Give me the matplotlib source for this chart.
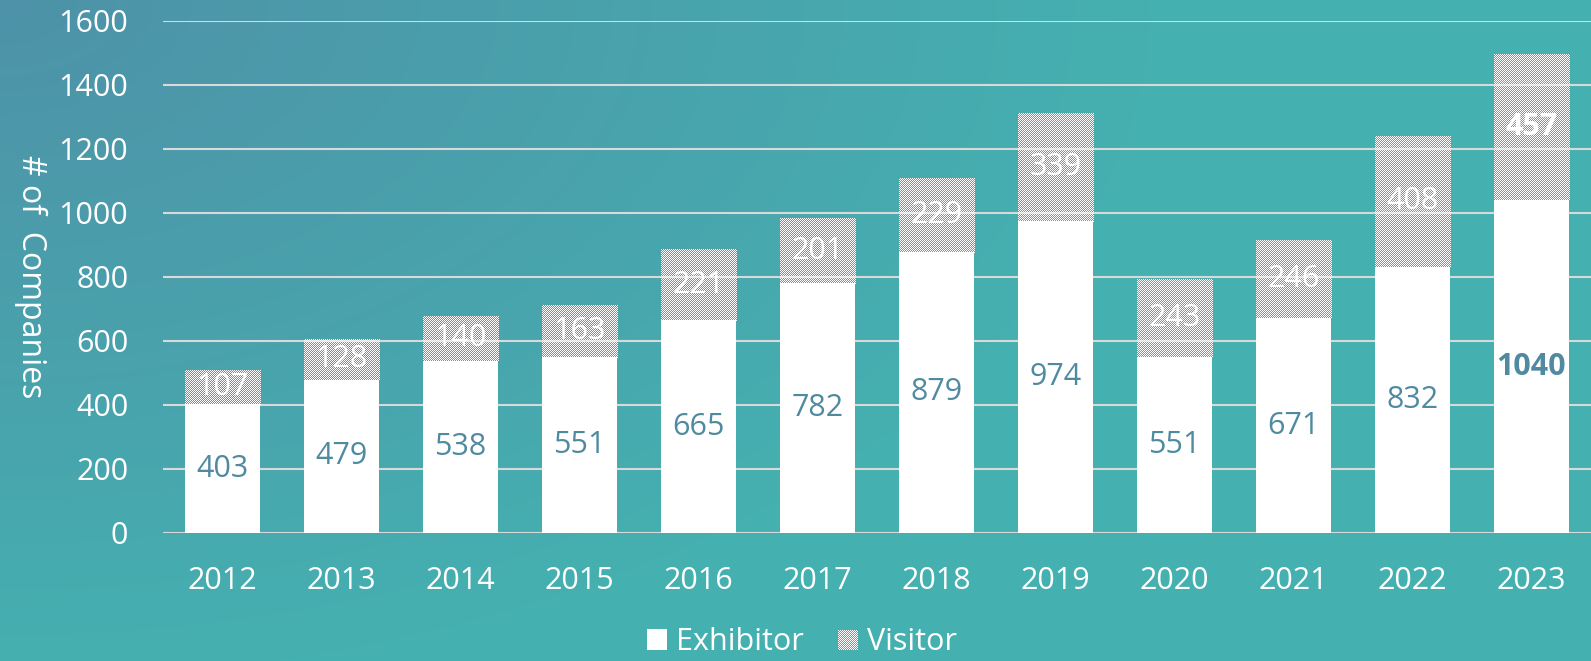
import numpy as np
from matplotlib import pyplot as plt
from matplotlib.patches import Patch

# data
years = ['2012', '2013', '2014', '2015', '2016', '2017', '2018', '2019', '2020', '2021', '2022', '2023']
exhibitor = [403, 479, 538, 551, 665, 782, 879, 974, 551, 671, 832, 1040]
visitor = [107, 128, 140, 163, 221, 201, 229, 339, 243, 246, 408, 457]
yticks = [0, 200, 400, 600, 800, 1000, 1200, 1400, 1600]

W, H = 1591, 661
plt.rcParams['font.family'] = ['Open Sans', 'DejaVu Sans']

fig = plt.figure(figsize=(W / 100, H / 100), dpi=100)

# background gradient (bluish top-left -> teal)
c0 = np.array([78, 146, 168]) / 255
c1 = np.array([69, 176, 176]) / 255
yy, xx = np.mgrid[0:H, 0:W]
t = np.clip(np.sqrt((xx / 1150) ** 2 + (yy / 680) ** 2), 0, 1)[..., None]
bg = c0 * (1 - t) + c1 * t
fig.figimage(bg, xo=0, yo=0, zorder=-10)


def checker(h, w):
    # 1px white / transparent checkerboard
    a = np.zeros((h, w, 4))
    a[..., :3] = 1
    ii, jj = np.mgrid[0:h, 0:w]
    a[..., 3] = ((ii + jj) % 2 == 0).astype(float)
    return a


ax = fig.add_axes([163 / W, 128 / H, 1428 / W, 512 / H])
ax.set_facecolor('none')

x = np.arange(len(years))
bw = 0.626
ax.bar(x, exhibitor, width=bw, color='white', zorder=2)
vbars = ax.bar(x, visitor, width=bw, bottom=exhibitor, color='none', edgecolor='none', zorder=2)
ax.set_xlim(-0.5, 11.5)
ax.set_ylim(0, 1600)

# checker fill drawn in device pixels, clipped to each visitor bar
chk = checker(H, W)
for b in vbars:
    fi = fig.figimage(chk, xo=0, yo=0, zorder=5)
    fi.set_clip_path(b)

# labels (figure-level so they sit above the checker fill)
lab_col = '#4f8aa0'
for i in range(len(years)):
    bold = 'bold' if i == len(years) - 1 else 'normal'
    fig.text(x[i], exhibitor[i] / 2, str(exhibitor[i]), ha='center', va='center',
             color=lab_col, fontsize=22, fontweight=bold, zorder=20, transform=ax.transData)
    fig.text(x[i], exhibitor[i] + visitor[i] / 2, str(visitor[i]), ha='center', va='center',
             color='white', fontsize=22, fontweight=bold, zorder=20, transform=ax.transData)

ax.set_yticks(yticks)
ax.set_xticks(x)
ax.set_xticklabels(years)
ax.tick_params(axis='both', length=0, colors='white', labelsize=22)
ax.tick_params(axis='y', pad=25)
ax.tick_params(axis='x', pad=24)
ax.grid(axis='y', color='#d9d9d9', linewidth=1.5, zorder=0)
ax.set_axisbelow(True)
for s in ax.spines.values():
    s.set_visible(False)

fig.text(0.019, 0.582, '# of  Companies', rotation=270, ha='center', va='center',
         color='white', fontsize=23)

leg = fig.legend(handles=[Patch(facecolor='white', edgecolor='none'),
                          Patch(facecolor='none', edgecolor='none')],
                 labels=['Exhibitor', 'Visitor'], loc='lower center',
                 bbox_to_anchor=(0.504, -0.036), ncol=2, frameon=False, fontsize=22,
                 handlelength=0.65, handleheight=0.65, handletextpad=0.3,
                 columnspacing=1.1, labelcolor='white')

fig.canvas.draw()
bb = leg.get_patches()[1].get_window_extent()
lw, lh = int(round(bb.width)), int(round(bb.height))
fig.figimage(checker(lh, lw), xo=int(round(bb.x0)), yo=int(round(bb.y0)), zorder=10)

fig.savefig('out.png', dpi=100)
